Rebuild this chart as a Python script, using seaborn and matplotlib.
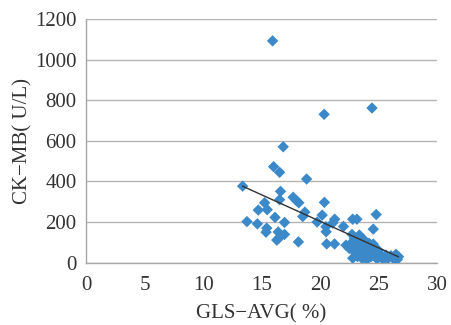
import numpy as np
import pandas as pd
import seaborn as sns
import matplotlib.pyplot as plt

# GLS-AVG (%) vs CK-MB (U/L)
gls_avg = [
    15.94, 20.35, 24.44, 16.85, 16.03, 16.54, 18.85, 13.38, 16.62, 16.54,
    17.70, 17.99, 18.18, 15.26, 20.37, 14.72, 15.48, 18.70, 18.52, 16.15,
    20.18, 21.25, 21.08, 13.75, 14.64, 16.96, 19.75, 15.44, 15.38, 16.42,
    16.96, 16.45, 16.30, 18.15, 20.50, 20.52, 20.57, 21.24, 22.00, 22.79,
    23.15, 24.80, 24.55, 22.73, 22.93, 22.22, 22.65, 23.22, 23.78, 23.36,
    24.20, 24.55, 23.36, 23.64, 24.07, 24.49, 24.63, 22.79, 23.93, 24.36,
    24.78, 25.21, 25.63, 26.06, 26.49, 26.71, 23.50, 23.78, 23.08, 22.50,
    24.20, 25.06, 23.00, 23.40, 23.90, 24.30, 24.90, 25.40, 25.80, 26.30,
    24.00, 23.60, 24.60, 25.00, 23.20, 22.90, 26.60,
]
ck_mb = [
    1093, 731, 762, 571, 473, 445, 412, 377, 351, 310,
    322, 305, 295, 295, 297, 259, 261, 249, 227, 223,
    234, 214, 195, 202, 191, 198, 200, 170, 150, 151,
    139, 119, 111, 102, 177, 152, 92, 92, 178, 214,
    214, 237, 165, 139, 119, 86, 95, 103, 111, 136,
    95, 91, 78, 70, 62, 86, 53, 22, 29, 29,
    24, 29, 37, 34, 41, 29, 45, 40, 62, 70,
    45, 45, 50, 90, 80, 70, 20, 15, 20, 18,
    15, 20, 35, 60, 30, 80, 15,
]
x_ticks = [0, 5, 10, 15, 20, 25, 30]
y_ticks = [0, 200, 400, 600, 800, 1000, 1200]

df = pd.DataFrame({"gls": gls_avg, "ckmb": ck_mb})

sns.set_theme(style="white")
plt.rcParams["font.family"] = ["Liberation Serif", "DejaVu Serif"]

fig = plt.figure(figsize=(4.51, 3.25), dpi=100)
ax = fig.add_axes([0.191, 0.192, 0.778, 0.749])

sns.scatterplot(data=df, x="gls", y="ckmb", marker="D", s=34, color="#3b89c9",
                edgecolor="none", ax=ax, zorder=3)
sns.regplot(data=df, x="gls", y="ckmb", scatter=False, ci=None, ax=ax,
            line_kws={"color": "#333333", "linewidth": 1.0, "zorder": 4})

ax.set_xlim(0, 30)
ax.set_ylim(0, 1200)
ax.set_xticks(x_ticks)
ax.set_yticks(y_ticks)
ax.yaxis.grid(True, color="#b4b4b4", linewidth=1.0)
ax.set_axisbelow(True)

for s in ["top", "right"]:
    ax.spines[s].set_visible(False)
for s in ["left", "bottom"]:
    ax.spines[s].set_color("#a6a6a6")
    ax.spines[s].set_linewidth(1.0)

ax.tick_params(axis="both", direction="out", length=4, width=1, color="#a6a6a6",
               labelsize=15, labelcolor="#333333")
ax.tick_params(axis="x", pad=6)
ax.tick_params(axis="y", pad=3)

ax.set_xlabel("GLS\u2212AVG( %)", fontsize=15, color="#333333", labelpad=6)
ax.set_ylabel("CK\u2212MB( U/L)", fontsize=15, color="#333333", labelpad=2)

fig.savefig("out.png", dpi=100)
